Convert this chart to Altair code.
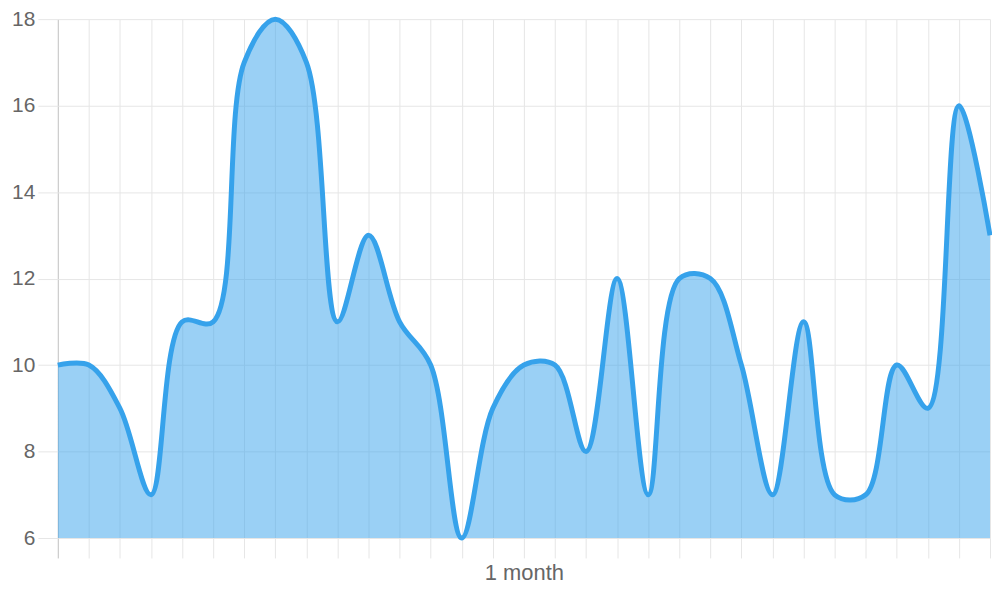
import altair as alt
import pandas as pd

day = list(range(31))
value = [10, 10, 9, 7, 11, 11, 17, 18, 17, 11, 13, 11, 10, 6, 9, 10,
         10, 8, 12, 7, 12, 12, 10, 7, 11, 7, 7, 10, 9, 16, 13]
y_ticks = [6, 8, 10, 12, 14, 16, 18]
x_title = "1 month"

df = pd.DataFrame({"day": day, "value": value})

FONT = "Liberation Sans"
BLUE = "#36A2EB"
GRID = "#e6e6e6"
ZERO = "#bfbfbf"

x_enc = alt.X(
    "day:Q",
    scale=alt.Scale(domain=[0, 30], nice=False, zero=False),
    axis=alt.Axis(
        values=day,
        labels=False,
        title=x_title,
        titleFont=FONT,
        titleFontSize=22,
        titleFontWeight="normal",
        titleColor="#666666",
        titlePadding=4,
        tickSize=20,
        tickColor={"condition": {"test": "datum.value === 0", "value": ZERO}, "value": GRID},
        gridColor={"condition": {"test": "datum.value === 0", "value": ZERO}, "value": GRID},
        grid=True,
        domain=False,
    ),
)
y_enc = alt.Y(
    "value:Q",
    scale=alt.Scale(domain=[6, 18], nice=False, zero=False),
    axis=alt.Axis(
        values=y_ticks,
        title=None,
        labelFont=FONT,
        labelFontSize=21,
        labelColor="#666666",
        labelPadding=3,
        tickSize=20,
        tickColor=GRID,
        gridColor=GRID,
        grid=True,
        domain=False,
    ),
)

area = alt.Chart(df).mark_area(
    interpolate="catmull-rom", color=BLUE, fillOpacity=0.5, clip=True
).encode(x=x_enc, y=y_enc, y2=alt.datum(6))

line = alt.Chart(df).mark_line(
    interpolate="catmull-rom", color=BLUE, strokeWidth=5, clip=False
).encode(x=x_enc, y=y_enc)

chart = (
    alt.layer(area, line)
    .properties(
        width=936,
        height=521,
        autosize=alt.AutoSizeParams(type="none"),
        padding={"left": 50, "top": 10, "right": 2, "bottom": 50},
    )
    .configure_view(strokeWidth=0)
)

chart.save("out.html", embed_options={"renderer": "svg", "actions": False})
